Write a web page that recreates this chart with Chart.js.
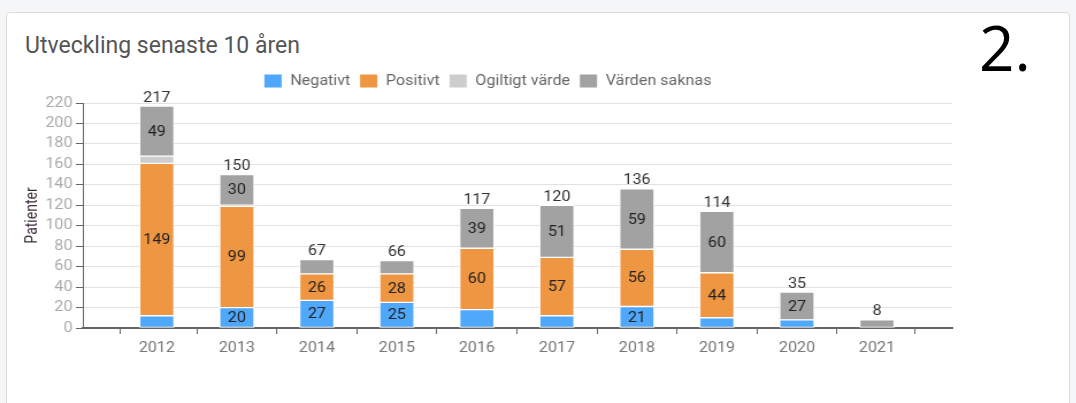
<!DOCTYPE html>
<html>
<head>
<meta charset="utf-8">
<script src="https://cdn.jsdelivr.net/npm/chart.js@4"></script>
<style>
  body { margin: 0; background: #f5f6f8; width: 1076px; height: 403px; overflow: hidden; font-family: Roboto, sans-serif; }
  .card { position: absolute; left: 6px; top: 12px; width: 1062px; height: 420px; background: #fff; border: 1px solid #dcdcdc; border-radius: 4px; }
  .title { position: absolute; left: 25px; top: 32px; font-size: 23px; color: #555; }
  .num { position: absolute; left: 979px; top: 16px; font-size: 62px; color: #000; font-family: "Open Sans", sans-serif; line-height: 1; }
  /* diagrammet i förlagan är lite utdraget på bredden */
  #chart { position: absolute; left: 0; top: 66px; transform: scaleX(1.15); transform-origin: 0 0; }
</style>
</head>
<body>
<div class="card"></div>
<div class="title">Utveckling senaste 10 åren</div>
<div class="num">2.</div>
<canvas id="chart" width="936" height="300"></canvas>
<script>
const years = [2012, 2013, 2014, 2015, 2016, 2017, 2018, 2019, 2020, 2021];
const negativt = [12, 20, 27, 25, 18, 12, 21, 10, 8, null];
const positivt = [149, 99, 26, 28, 60, 57, 56, 44, null, null];
const ogiltigt = [7, 1, null, null, null, null, null, null, null, null];
const saknas = [49, 30, 14, 13, 39, 51, 59, 60, 27, 8];
const yTicks = [0, 220, 20];
const xRange = [2011.075, 2021.94];

const toPoints = arr => years.map((yr, i) => ({ x: yr, y: arr[i] }));
const totals = years.map((yr, i) => (negativt[i] || 0) + (positivt[i] || 0) + (ogiltigt[i] || 0) + (saknas[i] || 0));

// siffror i staplarna och summan ovanför
const barLabels = {
  id: 'barLabels',
  afterDatasetsDraw(chart) {
    const ctx = chart.ctx;
    ctx.save();
    ctx.font = '14px Roboto';
    ctx.textAlign = 'center';
    chart.data.datasets.forEach((ds, i) => {
      const meta = chart.getDatasetMeta(i);
      meta.data.forEach((bar, j) => {
        const v = ds.data[j].y;
        if (v !== null && v >= 20) {
          ctx.fillStyle = '#222';
          ctx.textBaseline = 'middle';
          ctx.fillText(v, bar.x, (bar.y + bar.base) / 2 + 1);
        }
      });
    });
    years.forEach((yr, j) => {
      const x = chart.scales.x.getPixelForValue(yr);
      const top = chart.scales.y.getPixelForValue(totals[j]);
      ctx.fillStyle = '#333';
      ctx.textBaseline = 'bottom';
      ctx.fillText(totals[j], x, top - 1);
    });
    ctx.restore();
  }
};

// lite mer luft under förklaringen, och flytta den något åt höger
const legendTweak = {
  id: 'legendTweak',
  beforeInit(chart) {
    const fit = chart.legend.fit;
    chart.legend.fit = function () {
      fit.call(this);
      this.height += 5;
    };
  },
  afterLayout(chart) {
    chart.legend.left += 10;
    chart.legend.right += 10;
  }
};

const common = { borderColor: '#fff', borderWidth: 1, borderSkipped: false, barThickness: 30 };

new Chart(document.getElementById('chart').getContext('2d'), {
  type: 'bar',
  data: {
    datasets: [
      { label: 'Negativt', data: toPoints(negativt), backgroundColor: '#4fa8fb', ...common },
      { label: 'Positivt', data: toPoints(positivt), backgroundColor: '#ef9642', ...common },
      { label: 'Ogiltigt värde', data: toPoints(ogiltigt), backgroundColor: '#cdcdcd', ...common },
      { label: 'Värden saknas', data: toPoints(saknas), backgroundColor: '#a2a2a2', ...common }
    ]
  },
  options: {
    responsive: false,
    animation: false,
    layout: { padding: { left: 0, right: 108, top: 0, bottom: 0 } },
    plugins: {
      legend: {
        position: 'top',
        labels: { boxWidth: 16, boxHeight: 14, padding: 8, color: '#666', font: { family: 'Roboto', size: 14 } }
      },
      tooltip: { enabled: false }
    },
    scales: {
      x: {
        type: 'linear',
        stacked: true,
        offset: false,
        min: xRange[0],
        max: xRange[1],
        ticks: {
          color: '#777',
          font: { family: 'Roboto', size: 14 },
          padding: 6,
          maxRotation: 0,
          autoSkip: false,
          callback: v => Number.isInteger(v) ? String(v) : ''
        },
        afterBuildTicks: scale => {
          scale.ticks = [xRange[0], ...years, xRange[1]].map(v => ({ value: v }));
        },
        grid: { drawOnChartArea: false, drawTicks: true, tickLength: 6, tickColor: '#666' },
        border: { color: '#666', width: 2 },
        afterFit: scale => { scale.height = 38; }
      },
      y: {
        stacked: true,
        min: yTicks[0],
        max: yTicks[1],
        ticks: { stepSize: yTicks[2], color: '#aaa', font: { family: 'Roboto', size: 14 }, padding: 3 },
        grid: { color: '#e2e2e2', tickLength: 6, tickColor: '#666' },
        border: { color: '#666', width: 1 },
        title: { display: true, text: 'Patienter', color: '#3a2a3a', font: { family: 'Roboto', size: 14 }, padding: { top: 20, bottom: 0 } },
        afterFit: scale => { scale.width = 72; }
      }
    }
  },
  plugins: [barLabels, legendTweak]
});
</script>
</body>
</html>
